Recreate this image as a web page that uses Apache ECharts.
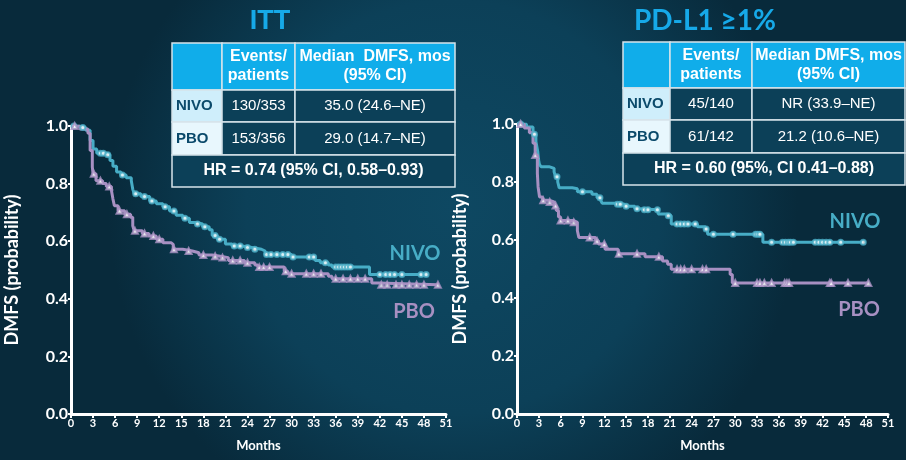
<!DOCTYPE html>
<html>
<head>
<meta charset="utf-8">
<script src="https://cdn.jsdelivr.net/npm/echarts@6/dist/echarts.min.js"></script>
<style>
html,body{margin:0;padding:0;background:#0b3a50;}
#c{width:906px;height:460px;}
</style>
</head>
<body>
<div id="c"></div>
<script>
// ---------- DATA ----------
var xTicks = [0,3,6,9,12,15,18,21,24,27,30,33,36,39,42,45,48,51];
var panelTitles = ['ITT', 'PD-L1 \u22651%'];
var armNames = ['NIVO', 'PBO'];

// ITT — Kaplan-Meier step points (months, DMFS probability)
var ittNivoT = [0,1.0,2.0,2.6,3.0,3.5,4.8,5.3,5.7,6.2,6.8,7.5,8.2,8.4,8.6,9.5,10.7,11.6,12.5,13.4,14.3,15.2,16.1,17.0,17.9,18.8,19.2,19.9,21.0,21.9,23.2,24.6,25.9,26.4,30.0,33.2,33.9,35.0,35.5,40.6,48.5];
var ittNivoS = [1.0,0.995,0.985,0.95,0.92,0.905,0.90,0.88,0.86,0.84,0.83,0.82,0.81,0.78,0.765,0.755,0.74,0.73,0.72,0.705,0.69,0.68,0.665,0.66,0.65,0.64,0.62,0.607,0.59,0.583,0.578,0.572,0.566,0.554,0.545,0.533,0.525,0.517,0.51,0.484,0.484];
var ittPboT = [0,1.2,2.3,2.6,2.9,3.0,3.4,4.3,4.8,5.5,5.7,5.9,6.4,7.3,8.1,8.4,8.6,9.7,10.6,11.6,12.5,13.6,13.9,15.2,16.5,17.4,19.2,20.3,21.4,23.6,25.0,25.4,29.0,29.5,35.0,35.5,40.9,41.8,49.9];
var ittPboS = [1.0,0.99,0.975,0.915,0.857,0.834,0.81,0.80,0.79,0.776,0.747,0.723,0.706,0.694,0.683,0.653,0.636,0.627,0.618,0.607,0.595,0.589,0.572,0.566,0.56,0.552,0.548,0.543,0.533,0.525,0.517,0.51,0.496,0.487,0.478,0.47,0.455,0.449,0.449];
var ittNivoCensor = [0.4,1.6,4.0,4.4,5.0,7.0,8.8,10.0,11.0,12.8,14.0,15.5,17.2,18.2,19.6,20.2,22.2,23.0,24.0,25.0,26.6,27.2,28.0,28.8,29.5,30.2,32.4,33.0,34.6,36.0,36.4,36.8,37.2,37.6,38.0,42.0,42.8,43.4,44.0,45.0,47.6,48.3];
var ittPboCensor = [0.5,3.1,4.0,5.2,6.6,7.6,8.7,10.0,11.2,12.0,14.0,16.0,18.0,19.6,20.6,22.0,23.0,24.0,25.6,26.2,27.0,29.2,30.0,32.0,33.0,34.0,36.0,37.0,38.0,39.0,40.0,42.2,43.0,44.2,45.0,46.0,47.0,48.0,49.9];

// PD-L1 >=1%
var pdNivoT = [0,1.3,2.2,2.6,2.85,3.0,3.1,3.3,4.4,5.1,5.3,5.6,5.8,7.6,8.3,10.3,11.0,11.5,11.7,13.5,14.8,16.2,16.7,19.4,20.5,21.2,24.8,25.9,26.2,33.8,47.6];
var pdNivoS = [1.0,0.99,0.965,0.94,0.905,0.87,0.86,0.853,0.847,0.835,0.818,0.80,0.78,0.777,0.766,0.758,0.746,0.737,0.727,0.723,0.716,0.708,0.704,0.69,0.684,0.655,0.646,0.638,0.62,0.592,0.592];
var pdPboT = [0,1.0,1.7,2.2,2.5,2.8,2.9,3.1,3.5,4.4,5.1,5.4,5.7,6.0,7.8,8.3,8.5,10.8,11.2,12.1,13.9,17.6,20.0,20.7,21.2,29.3,29.6,48.3];
var pdPboS = [1.0,0.986,0.97,0.934,0.893,0.83,0.783,0.748,0.737,0.731,0.719,0.702,0.679,0.667,0.661,0.632,0.609,0.597,0.586,0.568,0.553,0.542,0.528,0.516,0.499,0.481,0.452,0.452];
var pdNivoCensor = [0.5,2.4,5.5,9.0,11.4,13.8,14.2,15.0,16.5,17.5,18.0,19.3,20.8,22.0,22.5,23.0,23.5,24.5,26.0,27.0,29.7,32.8,33.1,33.4,35.0,36.5,36.9,37.3,37.6,38.0,41.0,41.5,42.0,42.5,43.0,44.5,47.6];
var pdPboCensor = [0.5,2.5,3.6,4.5,5.3,6.0,7.0,7.8,10.0,11.0,12.0,14.0,16.5,19.5,22.0,22.5,23.0,24.0,25.5,26.0,30.0,33.0,33.4,34.0,35.0,36.8,37.1,37.4,43.0,43.2,45.5,48.3];

// Tables
var tableHeader = ['', 'Events/\npatients', 'Median  DMFS, mos\n(95% CI)'];
var ittRows = [['NIVO','130/353','35.0 (24.6\u2013NE)'],['PBO','153/356','29.0 (14.7\u2013NE)']];
var ittHR = 'HR = 0.74 (95% CI, 0.58\u20130.93)';
var pdHeader = ['', 'Events/\npatients', 'Median DMFS, mos\n(95% CI)'];
var pdRows = [['NIVO','45/140','NR (33.9\u2013NE)'],['PBO','61/142','21.2 (10.6\u2013NE)']];
var pdHR = 'HR = 0.60 (95%, CI 0.41\u20130.88)';

// ---------- STYLE ----------
var NIVO_C = '#47adc6';
var PBO_C = '#a790c2';
var AX_FONT = 'Lato';
var TB_FONT = '"Liberation Sans", Arial, sans-serif';

function pairs(t, s){ return t.map(function(v,i){ return [v, s[i]]; }); }
function stepAt(t, s, x){
  var v = s[0];
  for (var i=0;i<t.length;i++){ if (t[i] <= x) v = s[i]; }
  return v;
}
function censor(t, s, c){ return c.map(function(x){ return [x, stepAt(t, s, x)]; }); }

function buildTable(x0, colX, rowY, header, rows, hr){
  var els = [];
  var bg = '#0c4058';
  var border = '#d6e3ea';
  for (var c=0;c<3;c++){
    els.push({type:'rect', shape:{x:colX[c], y:rowY[0], width:colX[c+1]-colX[c], height:rowY[1]-rowY[0]},
      style:{fill:'#10adea', stroke:border, lineWidth:1.5}});
    if (header[c]) {
      els.push({type:'text', x:(colX[c]+colX[c+1])/2, y:(rowY[0]+rowY[1])/2,
        style:{text:header[c], fill:'#ffffff', font:'bold 16px ' + TB_FONT, align:'center', verticalAlign:'middle', lineHeight:19}});
    }
  }
  var labelBg = ['#cfeefb', '#e8f7fd'];
  for (var r=0;r<rows.length;r++){
    for (var c2=0;c2<3;c2++){
      els.push({type:'rect', shape:{x:colX[c2], y:rowY[r+1], width:colX[c2+1]-colX[c2], height:rowY[r+2]-rowY[r+1]},
        style:{fill: c2===0 ? labelBg[r] : bg, stroke:border, lineWidth:1.5}});
      els.push({type:'text', x: c2===0 ? colX[0]+4 : (colX[c2]+colX[c2+1])/2, y:(rowY[r+1]+rowY[r+2])/2,
        style:{text:rows[r][c2], fill: c2===0 ? '#0b4a6b' : '#ffffff',
          font:(c2===0 ? 'bold ' : '') + '15px ' + TB_FONT, align: c2===0 ? 'left' : 'center', verticalAlign:'middle'}});
    }
  }
  els.push({type:'rect', shape:{x:colX[0], y:rowY[3], width:colX[3]-colX[0], height:rowY[4]-rowY[3]},
    style:{fill:bg, stroke:border, lineWidth:1.5}});
  els.push({type:'text', x:(colX[0]+colX[3])/2, y:(rowY[3]+rowY[4])/2,
    style:{text:hr, fill:'#ffffff', font:'bold 16px ' + TB_FONT, align:'center', verticalAlign:'middle'}});
  return els;
}

function xAxisCfg(gi){
  return {
    type:'value', gridIndex:gi, min:0, max:51, interval:3,
    name:'Months', nameLocation:'middle', nameGap:25,
    nameTextStyle:{color:'#ffffff', fontFamily:AX_FONT, fontWeight:'bold', fontSize:13},
    axisLine:{show:true, onZero:false, lineStyle:{color:'#ffffff', width:3}},
    axisTick:{show:true, length:4, lineStyle:{color:'#ffffff', width:2}},
    axisLabel:{color:'#ffffff', fontFamily:AX_FONT, fontWeight:'bold', fontSize:11, margin:4,
      formatter:function(v){ return xTicks.indexOf(v) >= 0 ? String(v) : ''; }},
    splitLine:{show:false}
  };
}
function yAxisCfg(gi, gap){
  return {
    type:'value', gridIndex:gi, min:0, max:1, interval:0.2,
    name:'DMFS (probability)', nameLocation:'middle', nameGap:gap, nameRotate:90,
    nameTextStyle:{color:'#ffffff', fontFamily:AX_FONT, fontWeight:'bold', fontSize:18},
    axisLine:{show:true, lineStyle:{color:'#ffffff', width:3}},
    axisTick:{show:true, length:3, lineStyle:{color:'#ffffff', width:2}},
    axisLabel:{color:'#ffffff', fontFamily:AX_FONT, fontWeight:'bold', fontSize:16, margin:3,
      formatter:function(v){ return v.toFixed(1); }},
    splitLine:{show:false}
  };
}
function kmLine(name, gi, t, s, color){
  return {type:'line', name:name, xAxisIndex:gi, yAxisIndex:gi, step:'end', data:pairs(t, s),
    showSymbol:false, symbol:'none', lineStyle:{color:color, width:3}, itemStyle:{color:color},
    silent:true, animation:false, z:3};
}
function kmCensor(name, gi, t, s, c, color, sym, size){
  return {type:'scatter', name:name, xAxisIndex:gi, yAxisIndex:gi, data:censor(t, s, c),
    symbol:sym, symbolSize:size, itemStyle:{color:color, borderColor:color, borderWidth:1.5},
    silent:true, animation:false, z:4};
}

var chart = echarts.init(document.getElementById('c'), null, {renderer:'canvas'});

var graphics = [];
graphics.push({type:'text', x:270, y:22, style:{text:panelTitles[0], fill:'#16a9e8', font:'bold 27px ' + TB_FONT, align:'center', verticalAlign:'middle'}});
graphics.push({type:'text', x:705, y:21, style:{text:panelTitles[1], fill:'#16a9e8', font:'bold 28px ' + AX_FONT, align:'center', verticalAlign:'middle'}});
graphics = graphics.concat(buildTable(172, [172,222,295,455], [43,90,122,155,187], tableHeader, ittRows, ittHR));
graphics = graphics.concat(buildTable(623, [623,670,752,905], [42,88,120,153,185], pdHeader, pdRows, pdHR));
graphics.push({type:'text', x:415, y:254, style:{text:armNames[0], fill:NIVO_C, font:'bold 20px ' + AX_FONT, align:'center', verticalAlign:'middle'}});
graphics.push({type:'text', x:414, y:312, style:{text:armNames[1], fill:PBO_C, font:'bold 20px ' + AX_FONT, align:'center', verticalAlign:'middle'}});
graphics.push({type:'text', x:855, y:222, style:{text:armNames[0], fill:NIVO_C, font:'bold 20px ' + AX_FONT, align:'center', verticalAlign:'middle'}});
graphics.push({type:'text', x:859, y:310, style:{text:armNames[1], fill:PBO_C, font:'bold 20px ' + AX_FONT, align:'center', verticalAlign:'middle'}});

var option = {
  animation:false,
  backgroundColor:{type:'radial', x:0.5, y:0.45, r:0.75,
    colorStops:[{offset:0, color:'#0e4862'},{offset:0.6, color:'#0c4058'},{offset:1, color:'#082a3b'}]},
  grid:[
    {left:71, top:126, width:375, height:288},
    {left:517, top:124, width:371, height:290}
  ],
  xAxis:[xAxisCfg(0), xAxisCfg(1)],
  yAxis:[yAxisCfg(0, 50), yAxisCfg(1, 48)],
  series:[
    kmLine('NIVO', 0, ittNivoT, ittNivoS, NIVO_C),
    kmLine('PBO', 0, ittPboT, ittPboS, PBO_C),
    kmCensor('NIVO censored', 0, ittNivoT, ittNivoS, ittNivoCensor, NIVO_C, 'emptyCircle', 5),
    kmCensor('PBO censored', 0, ittPboT, ittPboS, ittPboCensor, PBO_C, 'emptyTriangle', 6),
    kmLine('NIVO', 1, pdNivoT, pdNivoS, NIVO_C),
    kmLine('PBO', 1, pdPboT, pdPboS, PBO_C),
    kmCensor('NIVO censored', 1, pdNivoT, pdNivoS, pdNivoCensor, NIVO_C, 'emptyCircle', 5),
    kmCensor('PBO censored', 1, pdPboT, pdPboS, pdPboCensor, PBO_C, 'emptyTriangle', 6)
  ],
  graphic:graphics
};
chart.setOption(option);
</script>
</body>
</html>
